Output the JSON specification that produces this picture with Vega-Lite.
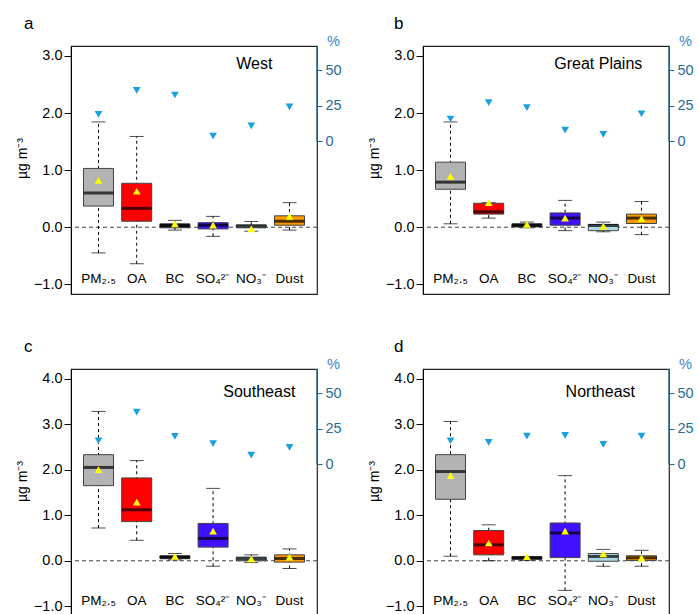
{
  "$schema": "https://vega.github.io/schema/vega-lite/v6.json",
  "padding": {"left": 14, "top": 14, "right": 5, "bottom": 5},
  "config": {
    "font": "Liberation Sans",
    "view": {"stroke": "#222222", "strokeWidth": 1.2},
    "axis": {"grid": false, "labelFont": "Liberation Sans", "titleFont": "Liberation Sans"}
  },
  "datasets": {
    "d": [
      {"region": "West", "cat": "PM2.5", "lab": "PM₂.₅", "lo": -0.45, "q1": 0.37, "med": 0.60, "q3": 1.03, "hi": 1.845, "mean": 0.82, "pct": 18.8},
      {"region": "West", "cat": "OA", "lab": "OA", "lo": -0.64, "q1": 0.105, "med": 0.33, "q3": 0.77, "hi": 1.59, "mean": 0.63, "pct": 35.7},
      {"region": "West", "cat": "BC", "lab": "BC", "lo": -0.05, "q1": -0.01, "med": 0.03, "q3": 0.06, "hi": 0.12, "mean": 0.06, "pct": 32.4},
      {"region": "West", "cat": "SO4", "lab": "SO₄²⁻", "lo": -0.16, "q1": -0.03, "med": 0.035, "q3": 0.08, "hi": 0.19, "mean": 0.035, "pct": 3.5},
      {"region": "West", "cat": "NO3", "lab": "NO₃⁻", "lo": -0.07, "q1": -0.01, "med": 0.02, "q3": 0.04, "hi": 0.10, "mean": -0.03, "pct": 10.6},
      {"region": "West", "cat": "Dust", "lab": "Dust", "lo": -0.05, "q1": 0.035, "med": 0.105, "q3": 0.20, "hi": 0.43, "mean": 0.19, "pct": 24},
      {"region": "Great Plains", "cat": "PM2.5", "lab": "PM₂.₅", "lo": 0.06, "q1": 0.665, "med": 0.79, "q3": 1.14, "hi": 1.845, "mean": 0.89, "pct": 15.5},
      {"region": "Great Plains", "cat": "OA", "lab": "OA", "lo": 0.16, "q1": 0.23, "med": 0.27, "q3": 0.42, "hi": 0.43, "mean": 0.43, "pct": 27},
      {"region": "Great Plains", "cat": "BC", "lab": "BC", "lo": -0.01, "q1": 0.005, "med": 0.035, "q3": 0.06, "hi": 0.09, "mean": 0.05, "pct": 23.5},
      {"region": "Great Plains", "cat": "SO4", "lab": "SO₄²⁻", "lo": -0.06, "q1": 0.035, "med": 0.16, "q3": 0.25, "hi": 0.47, "mean": 0.16, "pct": 7.7},
      {"region": "Great Plains", "cat": "NO3", "lab": "NO₃⁻", "lo": -0.08, "q1": -0.06, "med": 0.03, "q3": 0.05, "hi": 0.09, "mean": 0.02, "pct": 4.7},
      {"region": "Great Plains", "cat": "Dust", "lab": "Dust", "lo": -0.13, "q1": 0.065, "med": 0.16, "q3": 0.23, "hi": 0.45, "mean": 0.15, "pct": 19.2},
      {"region": "Southeast", "cat": "PM2.5", "lab": "PM₂.₅", "lo": 0.72, "q1": 1.65, "med": 2.05, "q3": 2.33, "hi": 3.28, "mean": 2.0, "pct": 16.4},
      {"region": "Southeast", "cat": "OA", "lab": "OA", "lo": 0.45, "q1": 0.86, "med": 1.12, "q3": 1.82, "hi": 2.20, "mean": 1.29, "pct": 36.6},
      {"region": "Southeast", "cat": "BC", "lab": "BC", "lo": 0.02, "q1": 0.045, "med": 0.08, "q3": 0.11, "hi": 0.16, "mean": 0.095, "pct": 19.5},
      {"region": "Southeast", "cat": "SO4", "lab": "SO₄²⁻", "lo": -0.12, "q1": 0.30, "med": 0.49, "q3": 0.82, "hi": 1.59, "mean": 0.65, "pct": 14.3},
      {"region": "Southeast", "cat": "NO3", "lab": "NO₃⁻", "lo": -0.04, "q1": 0.0, "med": 0.045, "q3": 0.08, "hi": 0.13, "mean": 0.04, "pct": 6.3},
      {"region": "Southeast", "cat": "Dust", "lab": "Dust", "lo": -0.17, "q1": -0.03, "med": 0.05, "q3": 0.13, "hi": 0.26, "mean": 0.08, "pct": 11.7},
      {"region": "Northeast", "cat": "PM2.5", "lab": "PM₂.₅", "lo": 0.10, "q1": 1.35, "med": 1.96, "q3": 2.33, "hi": 3.06, "mean": 1.87, "pct": 16.4},
      {"region": "Northeast", "cat": "OA", "lab": "OA", "lo": 0.0, "q1": 0.13, "med": 0.35, "q3": 0.665, "hi": 0.79, "mean": 0.39, "pct": 15.3},
      {"region": "Northeast", "cat": "BC", "lab": "BC", "lo": 0.01, "q1": 0.03, "med": 0.065, "q3": 0.09, "hi": 0.095, "mean": 0.09, "pct": 19.7},
      {"region": "Northeast", "cat": "SO4", "lab": "SO₄²⁻", "lo": -0.65, "q1": 0.07, "med": 0.61, "q3": 0.83, "hi": 1.87, "mean": 0.65, "pct": 20.2},
      {"region": "Northeast", "cat": "NO3", "lab": "NO₃⁻", "lo": -0.12, "q1": -0.01, "med": 0.095, "q3": 0.16, "hi": 0.25, "mean": 0.15, "pct": 13.8},
      {"region": "Northeast", "cat": "Dust", "lab": "Dust", "lo": -0.12, "q1": 0.007, "med": 0.065, "q3": 0.11, "hi": 0.23, "mean": 0.065, "pct": 19.7}
    ]
  },
  "columns": 2,
  "spacing": {"row": 75, "column": 106},
  "bounds": "flush",
  "concat": [
    {
      "width": 246, "height": 248,
      "title": {"text": "a", "anchor": "start", "frame": "group", "dx": -47, "fontSize": 17, "fontWeight": "normal", "offset": 0},
      "data": {"name": "d"},
      "transform": [{"filter": "datum.region == 'West'"}],
      "layer": [
        {"layer": [
          {"transform": [{"filter": "datum.cat == 'PM2.5'"}], "mark": {"type": "rule", "strokeDash": [4, 3], "color": "#444444"},
           "encoding": {"y": {"datum": 0, "type": "quantitative", "scale": {"domain": [-1.17, 3.175], "nice": false, "zero": false},
             "axis": {"values": [-1, 0, 1, 2, 3], "format": ".1f", "title": "µg m⁻³", "titleFontSize": 14, "titleFontWeight": "normal", "titleColor": "black", "titlePadding": 4, "titleY": 112, "labelFontSize": 14.5, "labelColor": "black", "tickColor": "black", "domainColor": "black", "tickSize": 7, "labelPadding": 2}}}},
          {"mark": {"type": "rule", "strokeDash": [3, 3], "color": "black"},
           "encoding": {"x": {"field": "cat", "type": "nominal", "scale": {"domain": ["PM2.5", "OA", "BC", "SO4", "NO3", "Dust"], "paddingInner": 0, "paddingOuter": 0.22}, "axis": null}, "y": {"field": "lo", "type": "quantitative"}, "y2": {"field": "hi"}}},
          {"mark": {"type": "tick", "size": 14, "thickness": 1, "color": "black"}, "encoding": {"x": {"field": "cat", "type": "nominal"}, "y": {"field": "lo", "type": "quantitative"}}},
          {"mark": {"type": "tick", "size": 14, "thickness": 1, "color": "black"}, "encoding": {"x": {"field": "cat", "type": "nominal"}, "y": {"field": "hi", "type": "quantitative"}}},
          {"mark": {"type": "bar", "width": 30, "stroke": "#444444", "strokeWidth": 1},
           "encoding": {"x": {"field": "cat", "type": "nominal"}, "y": {"field": "q1", "type": "quantitative"}, "y2": {"field": "q3"},
             "color": {"field": "cat", "type": "nominal", "scale": {"domain": ["PM2.5", "OA", "BC", "SO4", "NO3", "Dust"], "range": ["#b3b3b3", "#ff0000", "#222222", "#4010ff", "#add8e6", "#ff9900"]}, "legend": null}}},
          {"mark": {"type": "tick", "size": 30, "thickness": 3, "color": "black"}, "encoding": {"x": {"field": "cat", "type": "nominal"}, "y": {"field": "med", "type": "quantitative"}}},
          {"mark": {"type": "point", "shape": "triangle-up", "filled": true, "opacity": 1, "color": "#ffff00", "size": 60}, "encoding": {"x": {"field": "cat", "type": "nominal"}, "y": {"field": "mean", "type": "quantitative"}}},
          {"mark": {"type": "text", "fontSize": 13.5, "baseline": "middle", "color": "black"}, "encoding": {"x": {"field": "cat", "type": "nominal"}, "y": {"datum": -0.9}, "text": {"field": "lab"}}},
          {"transform": [{"filter": "datum.cat == 'PM2.5'"}], "mark": {"type": "text", "fontSize": 16, "baseline": "middle", "align": "center", "dx": 3, "color": "black"}, "encoding": {"x": {"datum": "NO3"}, "y": {"datum": 2.855}, "text": {"field": "region"}}}
        ]},
        {"layer": [
          {"mark": {"type": "point", "shape": "triangle-down", "filled": true, "opacity": 1, "color": "#1aa0dc", "size": 60},
           "encoding": {"x": {"field": "cat", "type": "nominal"}, "y": {"field": "pct", "type": "quantitative", "scale": {"domain": [-107.7, 66.9], "nice": false, "zero": false},
             "axis": {"orient": "right", "values": [0, 25, 50], "domain": false, "title": "%", "titleAngle": 0, "titleX": 16, "titleY": 2, "titleAlign": "center", "titleBaseline": "bottom", "titleFontSize": 14.5, "titleFontWeight": "normal", "titleColor": "#3a86d4", "labelFontSize": 14.5, "labelColor": "#1d6e95", "tickColor": "#1d6e95", "tickSize": 5, "labelPadding": 3}}}},
          {"transform": [{"filter": "datum.cat == 'PM2.5'"}], "mark": {"type": "rule", "color": "#1d6e95", "strokeWidth": 1.3}, "encoding": {"x": {"value": "width"}, "y": {"datum": 0, "type": "quantitative"}, "y2": {"datum": 66.9}}}
        ]}
      ],
      "resolve": {"scale": {"y": "independent"}}
    },
    {
      "width": 246, "height": 248,
      "title": {"text": "b", "anchor": "start", "frame": "group", "dx": -29, "fontSize": 17, "fontWeight": "normal", "offset": 0},
      "data": {"name": "d"},
      "transform": [{"filter": "datum.region == 'Great Plains'"}],
      "layer": [
        {"layer": [
          {"transform": [{"filter": "datum.cat == 'PM2.5'"}], "mark": {"type": "rule", "strokeDash": [4, 3], "color": "#444444"},
           "encoding": {"y": {"datum": 0, "type": "quantitative", "scale": {"domain": [-1.17, 3.175], "nice": false, "zero": false},
             "axis": {"values": [-1, 0, 1, 2, 3], "format": ".1f", "title": "µg m⁻³", "titleFontSize": 14, "titleFontWeight": "normal", "titleColor": "black", "titlePadding": 4, "titleY": 112, "labelFontSize": 14.5, "labelColor": "black", "tickColor": "black", "domainColor": "black", "tickSize": 7, "labelPadding": 2}}}},
          {"mark": {"type": "rule", "strokeDash": [3, 3], "color": "black"},
           "encoding": {"x": {"field": "cat", "type": "nominal", "scale": {"domain": ["PM2.5", "OA", "BC", "SO4", "NO3", "Dust"], "paddingInner": 0, "paddingOuter": 0.22}, "axis": null}, "y": {"field": "lo", "type": "quantitative"}, "y2": {"field": "hi"}}},
          {"mark": {"type": "tick", "size": 14, "thickness": 1, "color": "black"}, "encoding": {"x": {"field": "cat", "type": "nominal"}, "y": {"field": "lo", "type": "quantitative"}}},
          {"mark": {"type": "tick", "size": 14, "thickness": 1, "color": "black"}, "encoding": {"x": {"field": "cat", "type": "nominal"}, "y": {"field": "hi", "type": "quantitative"}}},
          {"mark": {"type": "bar", "width": 30, "stroke": "#444444", "strokeWidth": 1},
           "encoding": {"x": {"field": "cat", "type": "nominal"}, "y": {"field": "q1", "type": "quantitative"}, "y2": {"field": "q3"},
             "color": {"field": "cat", "type": "nominal", "scale": {"domain": ["PM2.5", "OA", "BC", "SO4", "NO3", "Dust"], "range": ["#b3b3b3", "#ff0000", "#222222", "#4010ff", "#add8e6", "#ff9900"]}, "legend": null}}},
          {"mark": {"type": "tick", "size": 30, "thickness": 3, "color": "black"}, "encoding": {"x": {"field": "cat", "type": "nominal"}, "y": {"field": "med", "type": "quantitative"}}},
          {"mark": {"type": "point", "shape": "triangle-up", "filled": true, "opacity": 1, "color": "#ffff00", "size": 60}, "encoding": {"x": {"field": "cat", "type": "nominal"}, "y": {"field": "mean", "type": "quantitative"}}},
          {"mark": {"type": "text", "fontSize": 13.5, "baseline": "middle", "color": "black"}, "encoding": {"x": {"field": "cat", "type": "nominal"}, "y": {"datum": -0.9}, "text": {"field": "lab"}}},
          {"transform": [{"filter": "datum.cat == 'PM2.5'"}], "mark": {"type": "text", "fontSize": 16, "baseline": "middle", "align": "center", "dx": -5, "color": "black"}, "encoding": {"x": {"datum": "NO3"}, "y": {"datum": 2.855}, "text": {"field": "region"}}}
        ]},
        {"layer": [
          {"mark": {"type": "point", "shape": "triangle-down", "filled": true, "opacity": 1, "color": "#1aa0dc", "size": 60},
           "encoding": {"x": {"field": "cat", "type": "nominal"}, "y": {"field": "pct", "type": "quantitative", "scale": {"domain": [-107.7, 66.9], "nice": false, "zero": false},
             "axis": {"orient": "right", "values": [0, 25, 50], "domain": false, "title": "%", "titleAngle": 0, "titleX": 16, "titleY": 2, "titleAlign": "center", "titleBaseline": "bottom", "titleFontSize": 14.5, "titleFontWeight": "normal", "titleColor": "#3a86d4", "labelFontSize": 14.5, "labelColor": "#1d6e95", "tickColor": "#1d6e95", "tickSize": 5, "labelPadding": 3}}}},
          {"transform": [{"filter": "datum.cat == 'PM2.5'"}], "mark": {"type": "rule", "color": "#1d6e95", "strokeWidth": 1.3}, "encoding": {"x": {"value": "width"}, "y": {"datum": 0, "type": "quantitative"}, "y2": {"datum": 66.9}}}
        ]}
      ],
      "resolve": {"scale": {"y": "independent"}}
    },
    {
      "width": 246, "height": 248,
      "title": {"text": "c", "anchor": "start", "frame": "group", "dx": -47, "fontSize": 17, "fontWeight": "normal", "offset": 0},
      "data": {"name": "d"},
      "transform": [{"filter": "datum.region == 'Southeast'"}],
      "layer": [
        {"layer": [
          {"transform": [{"filter": "datum.cat == 'PM2.5'"}], "mark": {"type": "rule", "strokeDash": [4, 3], "color": "#444444"},
           "encoding": {"y": {"datum": 0, "type": "quantitative", "scale": {"domain": [-1.235, 4.212], "nice": false, "zero": false},
             "axis": {"values": [-1, 0, 1, 2, 3, 4], "format": ".1f", "title": "µg m⁻³", "titleFontSize": 14, "titleFontWeight": "normal", "titleColor": "black", "titlePadding": 4, "titleY": 112, "labelFontSize": 14.5, "labelColor": "black", "tickColor": "black", "domainColor": "black", "tickSize": 7, "labelPadding": 2}}}},
          {"mark": {"type": "rule", "strokeDash": [3, 3], "color": "black"},
           "encoding": {"x": {"field": "cat", "type": "nominal", "scale": {"domain": ["PM2.5", "OA", "BC", "SO4", "NO3", "Dust"], "paddingInner": 0, "paddingOuter": 0.22}, "axis": null}, "y": {"field": "lo", "type": "quantitative"}, "y2": {"field": "hi"}}},
          {"mark": {"type": "tick", "size": 14, "thickness": 1, "color": "black"}, "encoding": {"x": {"field": "cat", "type": "nominal"}, "y": {"field": "lo", "type": "quantitative"}}},
          {"mark": {"type": "tick", "size": 14, "thickness": 1, "color": "black"}, "encoding": {"x": {"field": "cat", "type": "nominal"}, "y": {"field": "hi", "type": "quantitative"}}},
          {"mark": {"type": "bar", "width": 30, "stroke": "#444444", "strokeWidth": 1},
           "encoding": {"x": {"field": "cat", "type": "nominal"}, "y": {"field": "q1", "type": "quantitative"}, "y2": {"field": "q3"},
             "color": {"field": "cat", "type": "nominal", "scale": {"domain": ["PM2.5", "OA", "BC", "SO4", "NO3", "Dust"], "range": ["#b3b3b3", "#ff0000", "#222222", "#4010ff", "#add8e6", "#ff9900"]}, "legend": null}}},
          {"mark": {"type": "tick", "size": 30, "thickness": 3, "color": "black"}, "encoding": {"x": {"field": "cat", "type": "nominal"}, "y": {"field": "med", "type": "quantitative"}}},
          {"mark": {"type": "point", "shape": "triangle-up", "filled": true, "opacity": 1, "color": "#ffff00", "size": 60}, "encoding": {"x": {"field": "cat", "type": "nominal"}, "y": {"field": "mean", "type": "quantitative"}}},
          {"mark": {"type": "text", "fontSize": 13.5, "baseline": "middle", "color": "black"}, "encoding": {"x": {"field": "cat", "type": "nominal"}, "y": {"datum": -0.88}, "text": {"field": "lab"}}},
          {"transform": [{"filter": "datum.cat == 'PM2.5'"}], "mark": {"type": "text", "fontSize": 16, "baseline": "middle", "align": "center", "dx": 8, "color": "black"}, "encoding": {"x": {"datum": "NO3"}, "y": {"datum": 3.71}, "text": {"field": "region"}}}
        ]},
        {"layer": [
          {"mark": {"type": "point", "shape": "triangle-down", "filled": true, "opacity": 1, "color": "#1aa0dc", "size": 60},
           "encoding": {"x": {"field": "cat", "type": "nominal"}, "y": {"field": "pct", "type": "quantitative", "scale": {"domain": [-107.7, 66.9], "nice": false, "zero": false},
             "axis": {"orient": "right", "values": [0, 25, 50], "domain": false, "title": "%", "titleAngle": 0, "titleX": 16, "titleY": 2, "titleAlign": "center", "titleBaseline": "bottom", "titleFontSize": 14.5, "titleFontWeight": "normal", "titleColor": "#3a86d4", "labelFontSize": 14.5, "labelColor": "#1d6e95", "tickColor": "#1d6e95", "tickSize": 5, "labelPadding": 3}}}},
          {"transform": [{"filter": "datum.cat == 'PM2.5'"}], "mark": {"type": "rule", "color": "#1d6e95", "strokeWidth": 1.3}, "encoding": {"x": {"value": "width"}, "y": {"datum": 0, "type": "quantitative"}, "y2": {"datum": 66.9}}}
        ]}
      ],
      "resolve": {"scale": {"y": "independent"}}
    },
    {
      "width": 246, "height": 248,
      "title": {"text": "d", "anchor": "start", "frame": "group", "dx": -29, "fontSize": 17, "fontWeight": "normal", "offset": 0},
      "data": {"name": "d"},
      "transform": [{"filter": "datum.region == 'Northeast'"}],
      "layer": [
        {"layer": [
          {"transform": [{"filter": "datum.cat == 'PM2.5'"}], "mark": {"type": "rule", "strokeDash": [4, 3], "color": "#444444"},
           "encoding": {"y": {"datum": 0, "type": "quantitative", "scale": {"domain": [-1.235, 4.212], "nice": false, "zero": false},
             "axis": {"values": [-1, 0, 1, 2, 3, 4], "format": ".1f", "title": "µg m⁻³", "titleFontSize": 14, "titleFontWeight": "normal", "titleColor": "black", "titlePadding": 4, "titleY": 112, "labelFontSize": 14.5, "labelColor": "black", "tickColor": "black", "domainColor": "black", "tickSize": 7, "labelPadding": 2}}}},
          {"mark": {"type": "rule", "strokeDash": [3, 3], "color": "black"},
           "encoding": {"x": {"field": "cat", "type": "nominal", "scale": {"domain": ["PM2.5", "OA", "BC", "SO4", "NO3", "Dust"], "paddingInner": 0, "paddingOuter": 0.22}, "axis": null}, "y": {"field": "lo", "type": "quantitative"}, "y2": {"field": "hi"}}},
          {"mark": {"type": "tick", "size": 14, "thickness": 1, "color": "black"}, "encoding": {"x": {"field": "cat", "type": "nominal"}, "y": {"field": "lo", "type": "quantitative"}}},
          {"mark": {"type": "tick", "size": 14, "thickness": 1, "color": "black"}, "encoding": {"x": {"field": "cat", "type": "nominal"}, "y": {"field": "hi", "type": "quantitative"}}},
          {"mark": {"type": "bar", "width": 30, "stroke": "#444444", "strokeWidth": 1},
           "encoding": {"x": {"field": "cat", "type": "nominal"}, "y": {"field": "q1", "type": "quantitative"}, "y2": {"field": "q3"},
             "color": {"field": "cat", "type": "nominal", "scale": {"domain": ["PM2.5", "OA", "BC", "SO4", "NO3", "Dust"], "range": ["#b3b3b3", "#ff0000", "#222222", "#4010ff", "#add8e6", "#ff9900"]}, "legend": null}}},
          {"mark": {"type": "tick", "size": 30, "thickness": 3, "color": "black"}, "encoding": {"x": {"field": "cat", "type": "nominal"}, "y": {"field": "med", "type": "quantitative"}}},
          {"mark": {"type": "point", "shape": "triangle-up", "filled": true, "opacity": 1, "color": "#ffff00", "size": 60}, "encoding": {"x": {"field": "cat", "type": "nominal"}, "y": {"field": "mean", "type": "quantitative"}}},
          {"mark": {"type": "text", "fontSize": 13.5, "baseline": "middle", "color": "black"}, "encoding": {"x": {"field": "cat", "type": "nominal"}, "y": {"datum": -0.88}, "text": {"field": "lab"}}},
          {"transform": [{"filter": "datum.cat == 'PM2.5'"}], "mark": {"type": "text", "fontSize": 16, "baseline": "middle", "align": "center", "dx": -3, "color": "black"}, "encoding": {"x": {"datum": "NO3"}, "y": {"datum": 3.71}, "text": {"field": "region"}}}
        ]},
        {"layer": [
          {"mark": {"type": "point", "shape": "triangle-down", "filled": true, "opacity": 1, "color": "#1aa0dc", "size": 60},
           "encoding": {"x": {"field": "cat", "type": "nominal"}, "y": {"field": "pct", "type": "quantitative", "scale": {"domain": [-107.7, 66.9], "nice": false, "zero": false},
             "axis": {"orient": "right", "values": [0, 25, 50], "domain": false, "title": "%", "titleAngle": 0, "titleX": 16, "titleY": 2, "titleAlign": "center", "titleBaseline": "bottom", "titleFontSize": 14.5, "titleFontWeight": "normal", "titleColor": "#3a86d4", "labelFontSize": 14.5, "labelColor": "#1d6e95", "tickColor": "#1d6e95", "tickSize": 5, "labelPadding": 3}}}},
          {"transform": [{"filter": "datum.cat == 'PM2.5'"}], "mark": {"type": "rule", "color": "#1d6e95", "strokeWidth": 1.3}, "encoding": {"x": {"value": "width"}, "y": {"datum": 0, "type": "quantitative"}, "y2": {"datum": 66.9}}}
        ]}
      ],
      "resolve": {"scale": {"y": "independent"}}
    }
  ]
}
